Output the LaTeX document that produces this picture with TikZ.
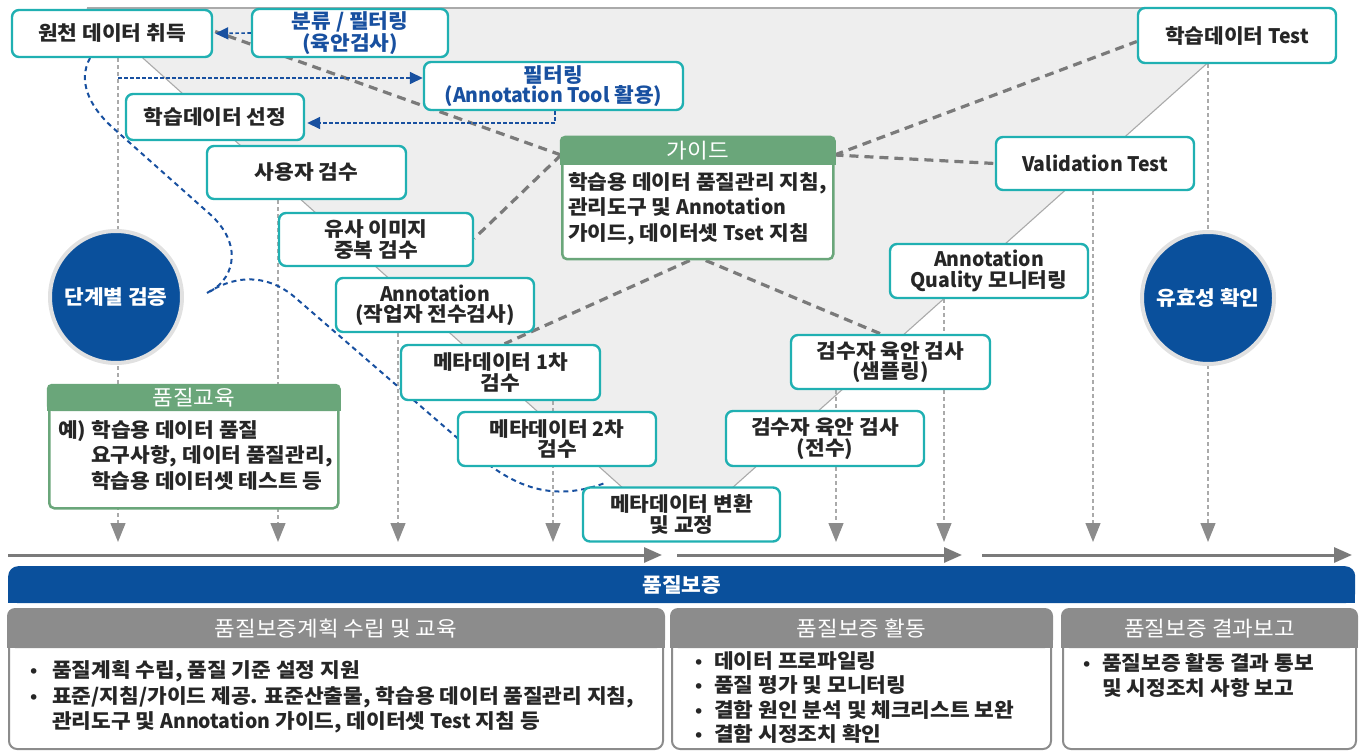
\documentclass[tikz,border=0pt]{standalone}
\usepackage{fontspec}
\setmainfont{Noto Sans CJK KR}[FakeStretch=1.07]
\usetikzlibrary{arrows.meta,calc}
\pgfdeclarelayer{bg}
\pgfsetlayers{bg,main}
\newcommand\latw[1]{\scalebox{0.91}[1]{#1}}
\newcommand\mybul{\raisebox{1pt}{\scalebox{0.85}{•}}}
\definecolor{teal1}{RGB}{32,176,178}
\definecolor{blueT}{RGB}{24,80,160}
\definecolor{navy}{RGB}{10,80,156}
\definecolor{greenH}{RGB}{106,166,122}
\definecolor{grayH}{RGB}{140,140,140}
\definecolor{vfill}{RGB}{238,238,238}
\definecolor{dgray}{RGB}{122,122,122}
\definecolor{lgray}{RGB}{170,170,170}
\definecolor{ring}{RGB}{225,225,225}
\tikzset{
  box/.style={draw=teal1, line width=2.4pt, rounded corners=7pt, fill=white, align=center,
    font=\fontsize{20}{20.5}\selectfont\bfseries, inner sep=1pt, text=black!85},
  btext/.style={text=blueT},
  circ/.style={circle, fill=navy, draw=ring, line width=4pt, minimum size=132pt, text=white,
    font=\fontsize{20}{21}\selectfont\bfseries, inner sep=0pt},
  gbody/.style={draw=greenH, line width=2.5pt, fill=white, rounded corners=5pt, inner sep=0pt},
  graybody/.style={draw=grayH, line width=2pt, fill=white, rounded corners=8pt, inner sep=0pt},
  htext/.style={text=white, font=\fontsize{21}{22}\selectfont},
  btxt/.style={anchor=north west, align=left, inner sep=0pt, text=black!85},
  vdots/.style={draw=lgray, line width=1.3pt, dash pattern=on 4pt off 3pt,
    -{Triangle[length=19pt,width=15pt,color=grayH,fill=grayH]}},
  gdash/.style={draw=dgray, line width=3.2pt, dash pattern=on 9pt off 6pt},
  vline/.style={draw=lgray, line width=1.1pt},
  barrow/.style={draw=blueT, line width=1.6pt, dash pattern=on 3.5pt off 2.5pt,
    -{Triangle[length=13pt,width=12pt]}},
  bcurve/.style={draw=blueT, line width=2pt, dash pattern=on 5pt off 4pt},
  harrow/.style={draw=dgray, line width=3pt, -{Triangle[length=18pt,width=15pt]}},
}
\begin{document}
\begin{tikzpicture}[x=1pt,y=-1pt]
\useasboundingbox (0,0) rectangle (1362,751);

% ---------- boxes ----------
\node[box,minimum width=200,minimum height=47] (won) at (112,33.5) {원천 데이터 취득};
\node[box,btext,minimum width=196,minimum height=48] (bun) at (350,33) {분류 / 필터링\\(육안검사)};
\node[box,btext,minimum width=259,minimum height=48] (fil) at (553.5,86) {필터링\\(\latw{Annotation Tool} 활용)};
\node[box,minimum width=178,minimum height=46] (hak) at (215,117) {학습데이터 선정};
\node[box,minimum width=199,minimum height=53] (sa) at (306.5,172.5) {사용자 검수};
\node[box,minimum width=194,minimum height=53] (yu) at (376,239.5) {유사 이미지\\중복 검수};
\node[box,minimum width=198,minimum height=54] (ann) at (435,305) {\latw{Annotation}\\(작업자 전수검사)};
\node[box,minimum width=199,minimum height=55] (meta1) at (500.5,372.5) {메타데이터 \latw{1}차\\검수};
\node[box,minimum width=198,minimum height=54] (meta2) at (557,439) {메타데이터 \latw{2}차\\검수};
\node[box,minimum width=197,minimum height=54] (conv) at (681.5,514.5) {메타데이터 변환\\및 교정};
\node[box,minimum width=198,minimum height=55] (full) at (825,438.5) {검수자 육안 검사\\(전수)};
\node[box,minimum width=199,minimum height=54] (samp) at (890.5,362) {검수자 육안 검사\\(샘플링)};
\node[box,minimum width=198,minimum height=54] (aq) at (989,271) {\latw{Annotation}\\\latw{Quality} 모니터링};
\node[box,minimum width=198,minimum height=53] (val) at (1095,163.5) {\latw{Validation Test}};
\node[box,minimum width=198,minimum height=55] (test) at (1237,35.5) {학습데이터 \latw{Test}};

% ---------- guide box ----------
\node[gbody,minimum width=271,minimum height=121,anchor=north west] (guide) at (561,137) {};
\fill[greenH, rounded corners=5pt] ($(guide.north west)+(-1.25,-1.25)$) rectangle ($(guide.north east)+(1.25,28)$);
\fill[greenH] ($(guide.north west)+(-1.25,14)$) rectangle ($(guide.north east)+(1.25,28)$);
\node[htext] (gtitle) at ($(guide.north)+(0,14)$) {가이드};
\node[btxt,font=\fontsize{20}{25.8}\selectfont\bfseries] (gtext) at ($(guide.north west)+(7,35)$)
  {학습용 데이터 품질관리 지침,\\관리도구 및 \latw{Annotation}\\가이드, 데이터셋 \latw{Tset} 지침};

% ---------- education box ----------
\node[gbody,minimum width=289,minimum height=122,anchor=north west] (edu) at (48,385) {};
\fill[greenH, rounded corners=5pt] ($(edu.north west)+(-1.25,-1.25)$) rectangle ($(edu.north east)+(1.25,26)$);
\fill[greenH] ($(edu.north west)+(-1.25,13)$) rectangle ($(edu.north east)+(1.25,26)$);
\node[htext] (etitle) at ($(edu.north)+(0,13)$) {품질교육};
\node[btxt,font=\fontsize{20}{25.8}\selectfont\bfseries] (etext) at ($(edu.north west)+(10,35)$)
  {예) 학습용 데이터 품질\\\hspace*{33pt}요구사항, 데이터 품질관리,\\\hspace*{33pt}학습용 데이터셋 테스트 등};

% ---------- circles ----------
\node[circ] (c1) at (116,297) {단계별 검증};
\node[circ] (c2) at (1208,298) {유효성 확인};

% ---------- bottom band and boxes ----------
\node[fill=navy, rounded corners=10pt, minimum width=1347, minimum height=37, anchor=north west, inner sep=0pt] (band) at (8,566) {};
\fill[navy] ($(band.west)$) rectangle (band.south east);
\node[text=white, font=\fontsize{20}{21}\selectfont\bfseries] (bandt) at (band.center) {품질보증};

\node[graybody,minimum width=654,minimum height=139,anchor=north west] (pa) at (8,609) {};
\node[graybody,minimum width=379,minimum height=139,anchor=north west] (pb) at (671,609) {};
\node[graybody,minimum width=293,minimum height=139,anchor=north west] (pc) at (1062,609) {};
\foreach \p in {pa,pb,pc}{
  \fill[grayH, rounded corners=8pt] ($(\p.north west)+(-1,-1)$) rectangle ($(\p.north east)+(1,39)$);
  \fill[grayH] ($(\p.north west)+(-1,20)$) rectangle ($(\p.north east)+(1,39)$);
}
\node[htext] (pat) at ($(pa.north)+(0,20)$) {품질보증계획 수립 및 교육};
\node[htext] (pbt) at ($(pb.north)+(0,20)$) {품질보증 활동};
\node[htext] (pct) at ($(pc.north)+(0,20)$) {품질보증 결과보고};

\node[btxt,font=\fontsize{20}{25.8}\selectfont\bfseries] (patx) at ($(pa.north west)+(22,51)$)
  {\makebox[22pt][l]{\mybul}품질계획 수립, 품질 기준 설정 지원\\
   \makebox[22pt][l]{\mybul}표준/지침/가이드 제공. 표준산출물, 학습용 데이터 품질관리 지침,\\
   \hspace*{22pt}관리도구 및 \latw{Annotation} 가이드, 데이터셋 \latw{Test} 지침 등};
\node[btxt,font=\fontsize{20}{24.6}\selectfont\bfseries] (pbtx) at ($(pb.north west)+(24,42)$)
  {\makebox[19pt][l]{\mybul}데이터 프로파일링\\
   \makebox[19pt][l]{\mybul}품질 평가 및 모니터링\\
   \makebox[19pt][l]{\mybul}결함 원인 분석 및 체크리스트 보완\\
   \makebox[19pt][l]{\mybul}결함 시정조치 확인};
\node[btxt,font=\fontsize{20}{25}\selectfont\bfseries] (pctx) at ($(pc.north west)+(21,44)$)
  {\makebox[19pt][l]{\mybul}품질보증 활동 결과 통보\\
   \hspace*{19pt}및 시정조치 사항 보고};

% ---------- background layer ----------
\coordinate (vtl) at (87,8);
\coordinate (vtr) at (1269,8);
\coordinate (vbl) at (624,489);
\coordinate (vbr) at (731,489);
\foreach \i/\x in {1/118,2/278,3/398,4/553,5/836,6/944,7/1093,8/1208}{
  \coordinate (t\i) at (\x,542);
}
\coordinate (bl1) at (118,78);
\coordinate (tipL) at (207,293);
\coordinate (ha1s) at (8,555);
\coordinate (ha1e) at (662,555);
\coordinate (ha2s) at (677,555);
\coordinate (ha2e) at (962,555);
\coordinate (ha3s) at (982,555);
\coordinate (ha3e) at (1352,555);

\begin{pgfonlayer}{bg}
  \fill[vfill] (vtl) -- (vtr) -- (vbr) -- (vbl) -- cycle;
  \draw[vline] (vtl) -- (vtr);
  \draw[vline] (vtl) -- (vbl);
  \draw[vline] (vtr) -- (vbr);

  % vertical dotted lines with arrows
  \draw[vdots] (won.south -| t1) -- (t1);
  \draw[vdots] (sa.south -| t2) -- (t2);
  \draw[vdots] (ann.south -| t3) -- (t3);
  \draw[vdots] (meta1.south -| t4) -- (t4);
  \draw[vdots] (samp.south -| t5) -- (t5);
  \draw[vdots] (aq.south -| t6) -- (t6);
  \draw[vdots] (val.south -| t7) -- (t7);
  \draw[vdots] (test.south -| t8) -- (t8);

  % gray dashed lines from guide
  \draw[gdash] ($(guide.north west)+(0,18)$) -- ($(won.east)+(2,-2)$);
  \draw[gdash] ($(guide.north west)+(0,18)$) -- ($(yu.east)+(0,-1)$);
  \draw[gdash] ($(guide.south)+(-8,0)$) -- ($(meta1.north)+(4,0)$);
  \draw[gdash] ($(guide.south)+(8,0)$) -- ($(samp.north)+(-10,0)$);
  \draw[gdash] ($(guide.north east)+(0,18)$) -- ($(test.west)+(0,6)$);
  \draw[gdash] ($(guide.north east)+(0,18)$) -- (val.west);

  % blue curly bracket
  \draw[bcurve] (90,58) .. controls (78,80) and (88,105) .. (112,127)
     -- (212,216) .. controls (245,248) and (232,282) .. (tipL);
  \draw[bcurve] (tipL) .. controls (240,272) and (272,276) .. (298,300)
     -- (462,442) .. controls (505,482) and (545,505) .. (605,483);
\end{pgfonlayer}

% blue arrows
\draw[barrow] (bun.west) -- ($(won.east)+(2,0)$);
\draw[barrow] (bl1) -- (bl1 -| fil.west);
\draw[barrow] ($(fil.south)+(1.5,0)$) |- ($(hak.east)+(2,6)$);

% horizontal gray arrows
\draw[harrow] (ha1s) -- (ha1e);
\draw[harrow] (ha2s) -- (ha2e);
\draw[harrow] (ha3s) -- (ha3e);
\end{tikzpicture}
\end{document}
